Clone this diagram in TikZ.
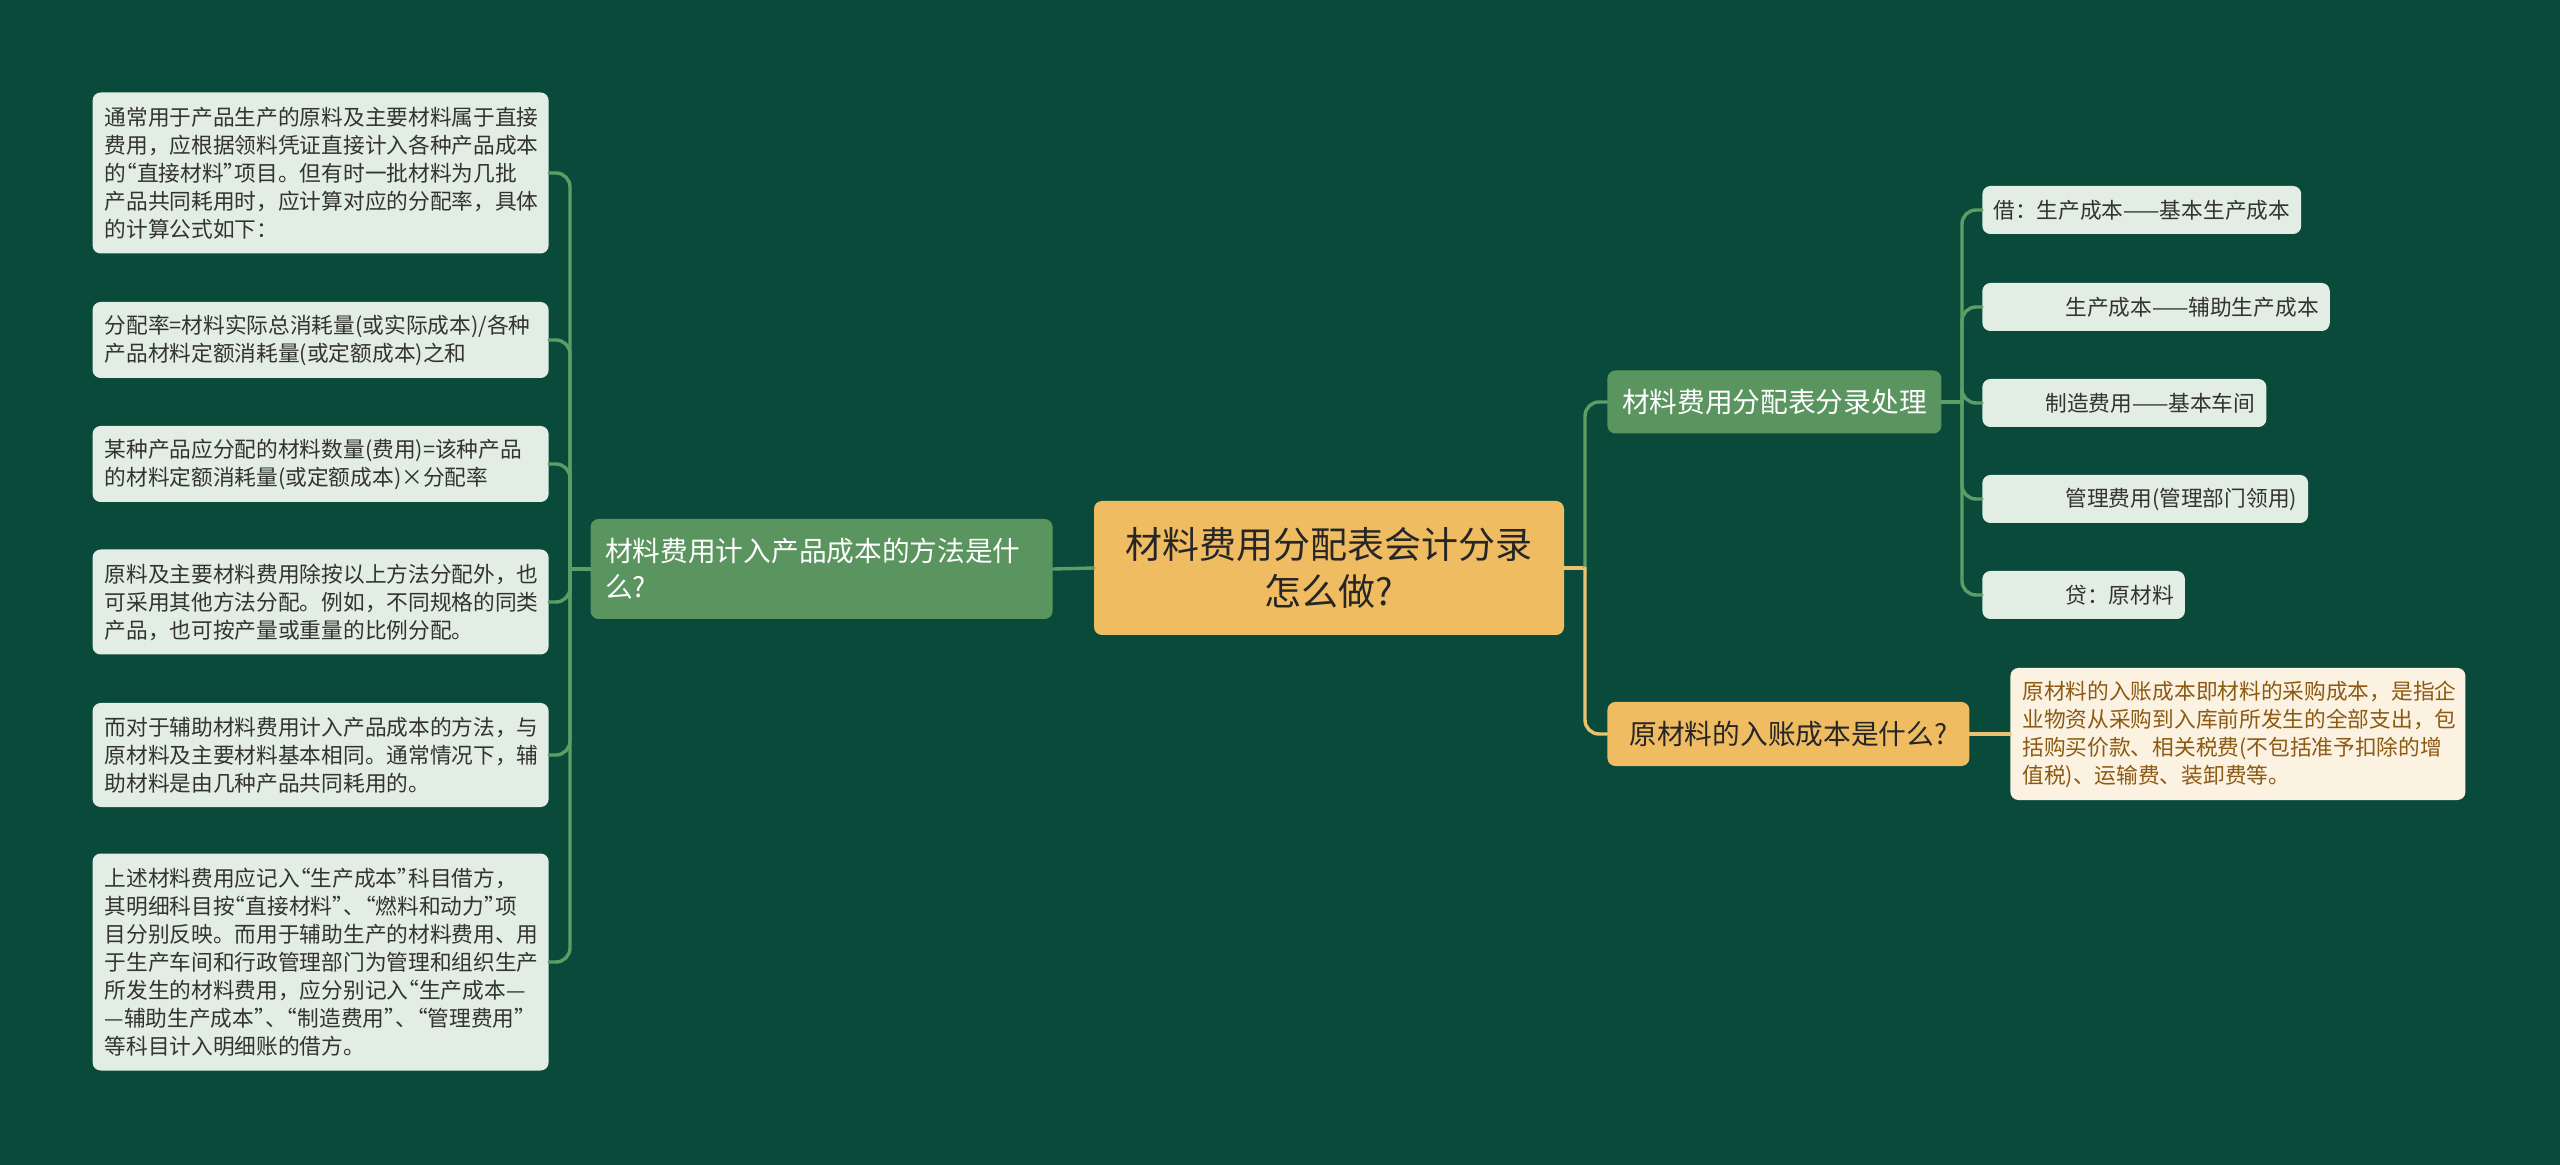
\documentclass[tikz,border=0pt]{standalone}
\usepackage{fontspec}
\setmainfont{Noto Sans CJK SC}
\definecolor{bg}{HTML}{0A4A3A}
\definecolor{rootfill}{HTML}{F0BC62}
\definecolor{topicfill}{HTML}{5A945F}
\definecolor{leaffill}{HTML}{E2EDE3}
\definecolor{creamfill}{HTML}{FCF2E2}
\definecolor{greenline}{HTML}{5E9D66}
\definecolor{goldline}{HTML}{EBC272}
\definecolor{browntext}{HTML}{8C5A12}
% half-width quotes
\newcommand{\qopen}{\makebox[0.5em][r]{“}}
\newcommand{\qclose}{\makebox[0.5em][l]{”}}
\tikzset{
  leaf/.style={fill=leaffill, rounded corners=4pt, text=black!80, inner xsep=6pt, inner ysep=3pt,
    font=\fontsize{10.85pt}{14pt}\selectfont},
  lleaf/.style={leaf, anchor=east, text width=216pt, align=left},
  rleaf/.style={leaf, anchor=west, inner xsep=5.5pt, minimum height=24pt},
  topic/.style={fill=topicfill, rounded corners=4pt, text=white, font=\fontsize{13.85pt}{18pt}\selectfont},
  conn/.style={draw=greenline, line width=1.7pt, rounded corners=7pt},
  gconn/.style={conn, draw=goldline}
}
\begin{document}
\begin{tikzpicture}[x=0.5pt, y=-0.5pt, line join=round, line cap=round]
\fill[bg] (0,0) rectangle (2560,1165);
\useasboundingbox (0,0) rectangle (2560,1165);
% centre and first level
\node[fill=rootfill, rounded corners=4pt, text=black!85, minimum width=235pt, minimum height=67pt, align=center,
  font=\fontsize{18.5pt}{23.5pt}\selectfont] (root) at (1329,568) {材料费用分配表会计分录\\怎么做?};
\node[topic, anchor=east, text width=216.5pt, inner xsep=7.25pt, minimum height=50pt, align=left] (way) at (1053,569)
  {材料费用计入产品成本的方法是什\\么?};
\node[topic, anchor=west, minimum width=167pt, minimum height=31.5pt] (entry) at (1607,402) {材料费用分配表分录处理};
\node[fill=rootfill, rounded corners=4pt, text=black!85, anchor=west, minimum width=181pt, minimum height=32pt,
  font=\fontsize{13.85pt}{18pt}\selectfont] (cost) at (1607,734) {原材料的入账成本是什么?};
% left leaves
\node[lleaf, minimum height=80.5pt] (l1) at (549,173) {通常用于产品生产的原料及主要材料属于直接\\费用，应根据领料凭证直接计入各种产品成本\\的\qopen 直接材料\qclose 项目。但有时一批材料为几批\\产品共同耗用时，应计算对应的分配率，具体\\的计算公式如下：};
\node[lleaf, minimum height=38pt] (l2) at (549,340) {分配率=材料实际总消耗量(或实际成本)/各种\\产品材料定额消耗量(或定额成本)之和};
\node[lleaf, minimum height=38pt] (l3) at (549,464) {某种产品应分配的材料数量(费用)=该种产品\\的材料定额消耗量(或定额成本)×分配率};
\node[lleaf, minimum height=52.5pt] (l4) at (549,602) {原料及主要材料费用除按以上方法分配外，也\\可采用其他方法分配。例如，不同规格的同类\\产品，也可按产量或重量的比例分配。};
\node[lleaf, minimum height=52pt] (l5) at (549,755) {而对于辅助材料费用计入产品成本的方法，与\\原材料及主要材料基本相同。通常情况下，辅\\助材料是由几种产品共同耗用的。};
\node[lleaf, minimum height=108.5pt] (l6) at (549,962) {上述材料费用应记入\qopen 生产成本\qclose 科目借方，\\其明细科目按\qopen 直接材料\qclose 、\qopen 燃料和动力\qclose 项\\目分别反映。而用于辅助生产的材料费用、用\\于生产车间和行政管理部门为管理和组织生产\\所发生的材料费用，应分别记入\qopen 生产成本—\\—辅助生产成本\qclose 、\qopen 制造费用\qclose 、\qopen 管理费用\qclose\\等科目计入明细账的借方。};
% right leaves
\node[rleaf] (t1) at (1982,210) {借：生产成本——基本生产成本};
\node[rleaf] (t2) at (1982,307) {\hspace*{36pt}生产成本——辅助生产成本};
\node[rleaf] (t3) at (1982,403) {\hspace*{26pt}制造费用——基本车间};
\node[rleaf] (t4) at (1982,499) {\hspace*{36pt}管理费用(管理部门领用)};
\node[rleaf] (t5) at (1982,595) {\hspace*{36pt}贷：原材料};
\node[leaf, fill=creamfill, text=browntext, anchor=west, text width=215.5pt, minimum height=66pt, align=left] (c1)
  at (2010,734) {原材料的入账成本即材料的采购成本，是指企\\业物资从采购到入库前所发生的全部支出，包\\括购买价款、相关税费(不包括准予扣除的增\\值税)、运输费、装卸费等。};
% connectors
\coordinate (lb) at (570,569);
\coordinate (rb) at (1585,568);
\coordinate (eb) at (1962,402);
\draw[conn] (root.west) -- (way.east);
\draw[conn] (way.west) -- (lb);
\foreach \n in {1,...,6} \draw[conn] (lb) |- (l\n.east);
\draw[gconn] (root.east) -- (rb);
\draw[conn] (rb) |- (entry.west);
\draw[gconn] (rb) |- (cost.west);
\draw[conn] (entry.east) -- (eb);
\foreach \n in {1,...,5} \draw[conn] (eb) |- (t\n.west);
\draw[gconn] (cost.east) -- (c1.west);
\end{tikzpicture}
\end{document}
